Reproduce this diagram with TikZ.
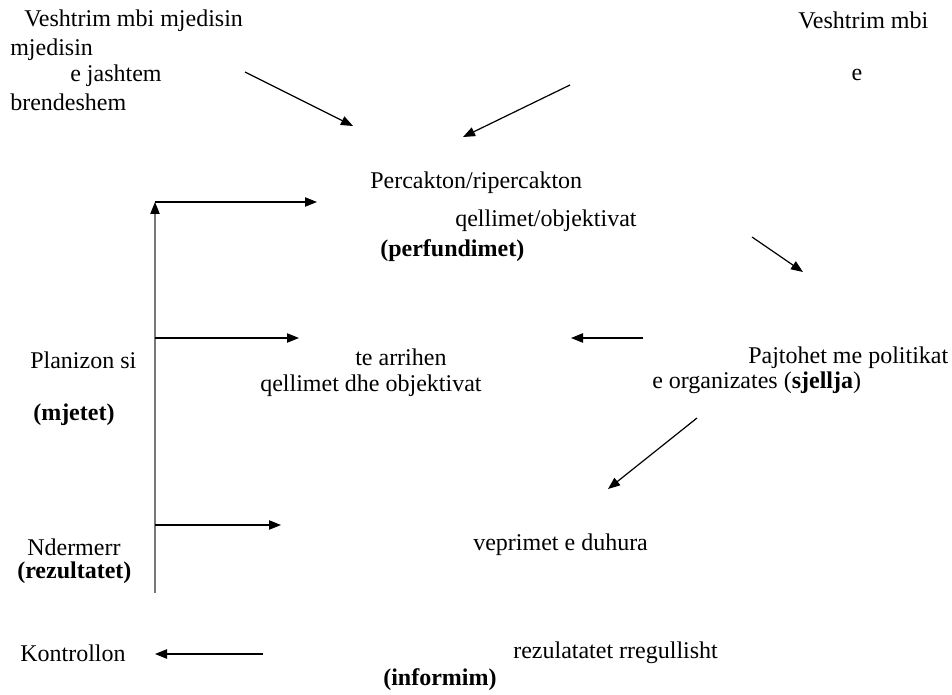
\documentclass[tikz,border=0pt]{standalone}
\usepackage{fontspec}
\setmainfont{Liberation Serif}
\usepackage{tikz}
\usetikzlibrary{arrows.meta}
\definecolor{stemgray}{RGB}{120,120,120}

\begin{document}
\begin{tikzpicture}[x=0.75pt,y=-0.75pt,
    lbl/.style={anchor=west,inner sep=0pt,font=\fontsize{18}{19.5}\selectfont},
    arr/.style={line width=0.9pt,-{Triangle[length=9pt,width=7pt,color=black]}}]
                \useasboundingbox (0,0) rectangle (952,695);
                % Labels
                \node[lbl] (vmA) at (24,21) {Veshtrim mbi mjedisin};
                \node[lbl] (mjA) at (10,50) {mjedisin};
                \node[lbl] (ejA) at (70,76) {e jashtem};
                \node[lbl] (brA) at (10,102) {brendeshem};
                \node[lbl] (vmB) at (798,20) {Veshtrim mbi};
                \node[lbl,anchor=center] (eB) at (857,75) {e};
                \node[lbl] (perc) at (370,183) {Percakton/ripercakton};
                \node[lbl] (qobj) at (455,221) {qellimet/objektivat};
                \node[lbl] (perf) at (380,251) {\textbf{(perfundimet)}};
                \node[lbl] (plan) at (30,360) {Planizon si};
                \node[lbl] (mjet) at (33,415) {\textbf{(mjetet)}};
                \node[lbl] (arrh) at (355,357) {te arrihen};
                \node[lbl] (qdho) at (260,386) {qellimet dhe objektivat};
                \node[lbl] (pajt) at (748,358) {Pajtohet me politikat};
                \node[lbl] (orgz) at (652,383) {e organizates (\textbf{sjellja})};
                \node[lbl] (nder) at (27,547) {Ndermerr};
                \node[lbl] (rezt) at (17,573) {\textbf{(rezultatet)}};
                \node[lbl] (vepr) at (473,545) {veprimet e duhura};
                \node[lbl] (kont) at (20,653) {Kontrollon};
                \node[lbl] (rreg) at (513,653) {rezulatatet rregullisht};
                \node[lbl] (info) at (383,680) {\textbf{(informim)}};
                % Arrow ends
                \coordinate (jS) at (245,72);   \coordinate (jE) at (353,126);
                \coordinate (bS) at (570,85);   \coordinate (bE) at (463,137);
                \coordinate (pS) at (752,237);  \coordinate (pE) at (803,272);
                \coordinate (sS) at (643,338);  \coordinate (sE) at (571,338);
                \coordinate (oS) at (697,418);  \coordinate (oE) at (608,489);
                \coordinate (kS) at (263,654);  \coordinate (kE) at (155,654);
                \coordinate (stBot) at (155,593);
                \coordinate (stTop) at (155,202);
                \coordinate (stMid) at (155,338);
                \coordinate (stLow) at (155,525);
                \coordinate (hTop) at (317,202);
                \coordinate (hMid) at (299,338);
                \coordinate (hLow) at (281,525);
                % Diagonal arrows
                \draw[arr] (jS) -- (jE);
                \draw[arr] (bS) -- (bE);
                \draw[arr] (pS) -- (pE);
                \draw[arr] (sS) -- (sE);
                \draw[arr] (oS) -- (oE);
                % Feedback stem
                \draw[arr,stemgray] (stBot) -- (stTop);
                \draw[arr] (stTop) -- (hTop);
                \draw[arr] (stMid) -- (hMid);
                \draw[arr] (stLow) -- (hLow);
                \draw[arr] (kS) -- (kE);
            \end{tikzpicture}
\end{document}
